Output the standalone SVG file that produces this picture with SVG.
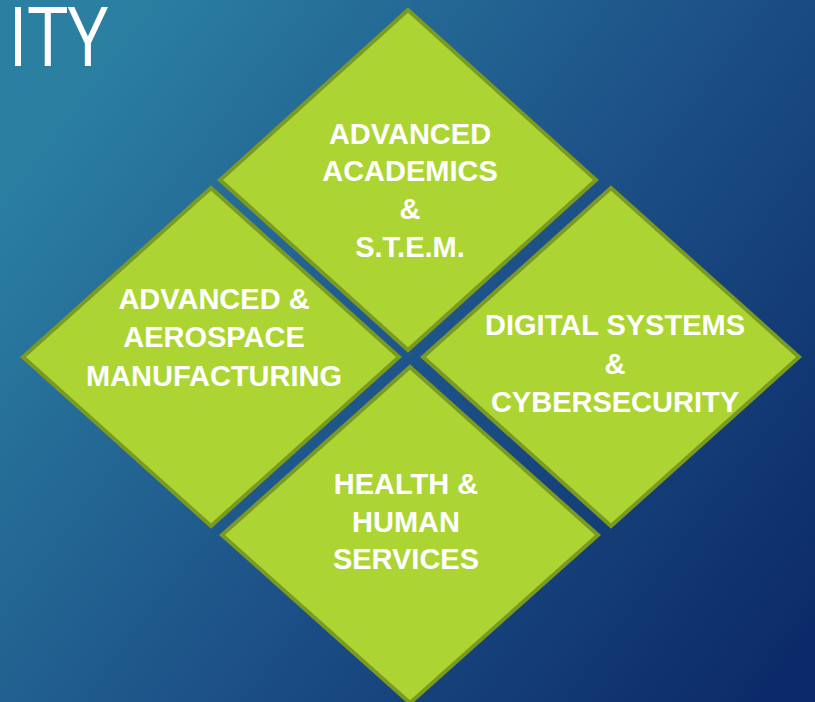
<svg xmlns="http://www.w3.org/2000/svg" width="815" height="702" viewBox="0 0 815 702">
  <defs>
    <linearGradient id="bg" x1="0" y1="0.25" x2="1" y2="0.9">
      <stop offset="0" stop-color="#2b80a2"/>
      <stop offset="0.5" stop-color="#1d5288"/>
      <stop offset="1" stop-color="#0c2a69"/>
    </linearGradient>
  </defs>
  <style>
    .dia { fill: #acd533; stroke: #7a9a21; stroke-width: 4; stroke-linejoin: miter; }
    .lbl { fill: #ffffff; font-family: "Liberation Sans", Arial, sans-serif; font-weight: bold; font-size: 29px; text-anchor: middle; }
    .title { fill: #ffffff; font-family: "Open Sans", "Liberation Sans", sans-serif; font-weight: normal; font-size: 82px; }
  </style>
  <rect x="0" y="0" width="815" height="702" fill="url(#bg)"/>
  <text class="title" x="8" y="66" textLength="100" lengthAdjust="spacingAndGlyphs">ITY</text>

  <g id="node-academics">
    <polygon class="dia" points="408,10 596,180 408,350 220,180"/>
    <text class="lbl" x="410" y="144">ADVANCED</text>
    <text class="lbl" x="410" y="181">ACADEMICS</text>
    <text class="lbl" x="410" y="219">&amp;</text>
    <text class="lbl" x="410" y="257">S.T.E.M.</text>
  </g>

  <g id="node-manufacturing">
    <polygon class="dia" points="211,188 399,357 211,526 23,357"/>
    <text class="lbl" x="214" y="309">ADVANCED &amp;</text>
    <text class="lbl" x="214" y="347">AEROSPACE</text>
    <text class="lbl" x="214" y="386">MANUFACTURING</text>
  </g>

  <g id="node-digital">
    <polygon class="dia" points="611,188 799,357 611,526 423,357"/>
    <text class="lbl" x="615" y="335">DIGITAL SYSTEMS</text>
    <text class="lbl" x="615" y="374">&amp;</text>
    <text class="lbl" x="615" y="412">CYBERSECURITY</text>
  </g>

  <g id="node-health">
    <polygon class="dia" points="410,367 598,535 410,703 222,535"/>
    <text class="lbl" x="406" y="494">HEALTH &amp;</text>
    <text class="lbl" x="406" y="532">HUMAN</text>
    <text class="lbl" x="406" y="569">SERVICES</text>
  </g>

  <g id="connectors"/>
</svg>
